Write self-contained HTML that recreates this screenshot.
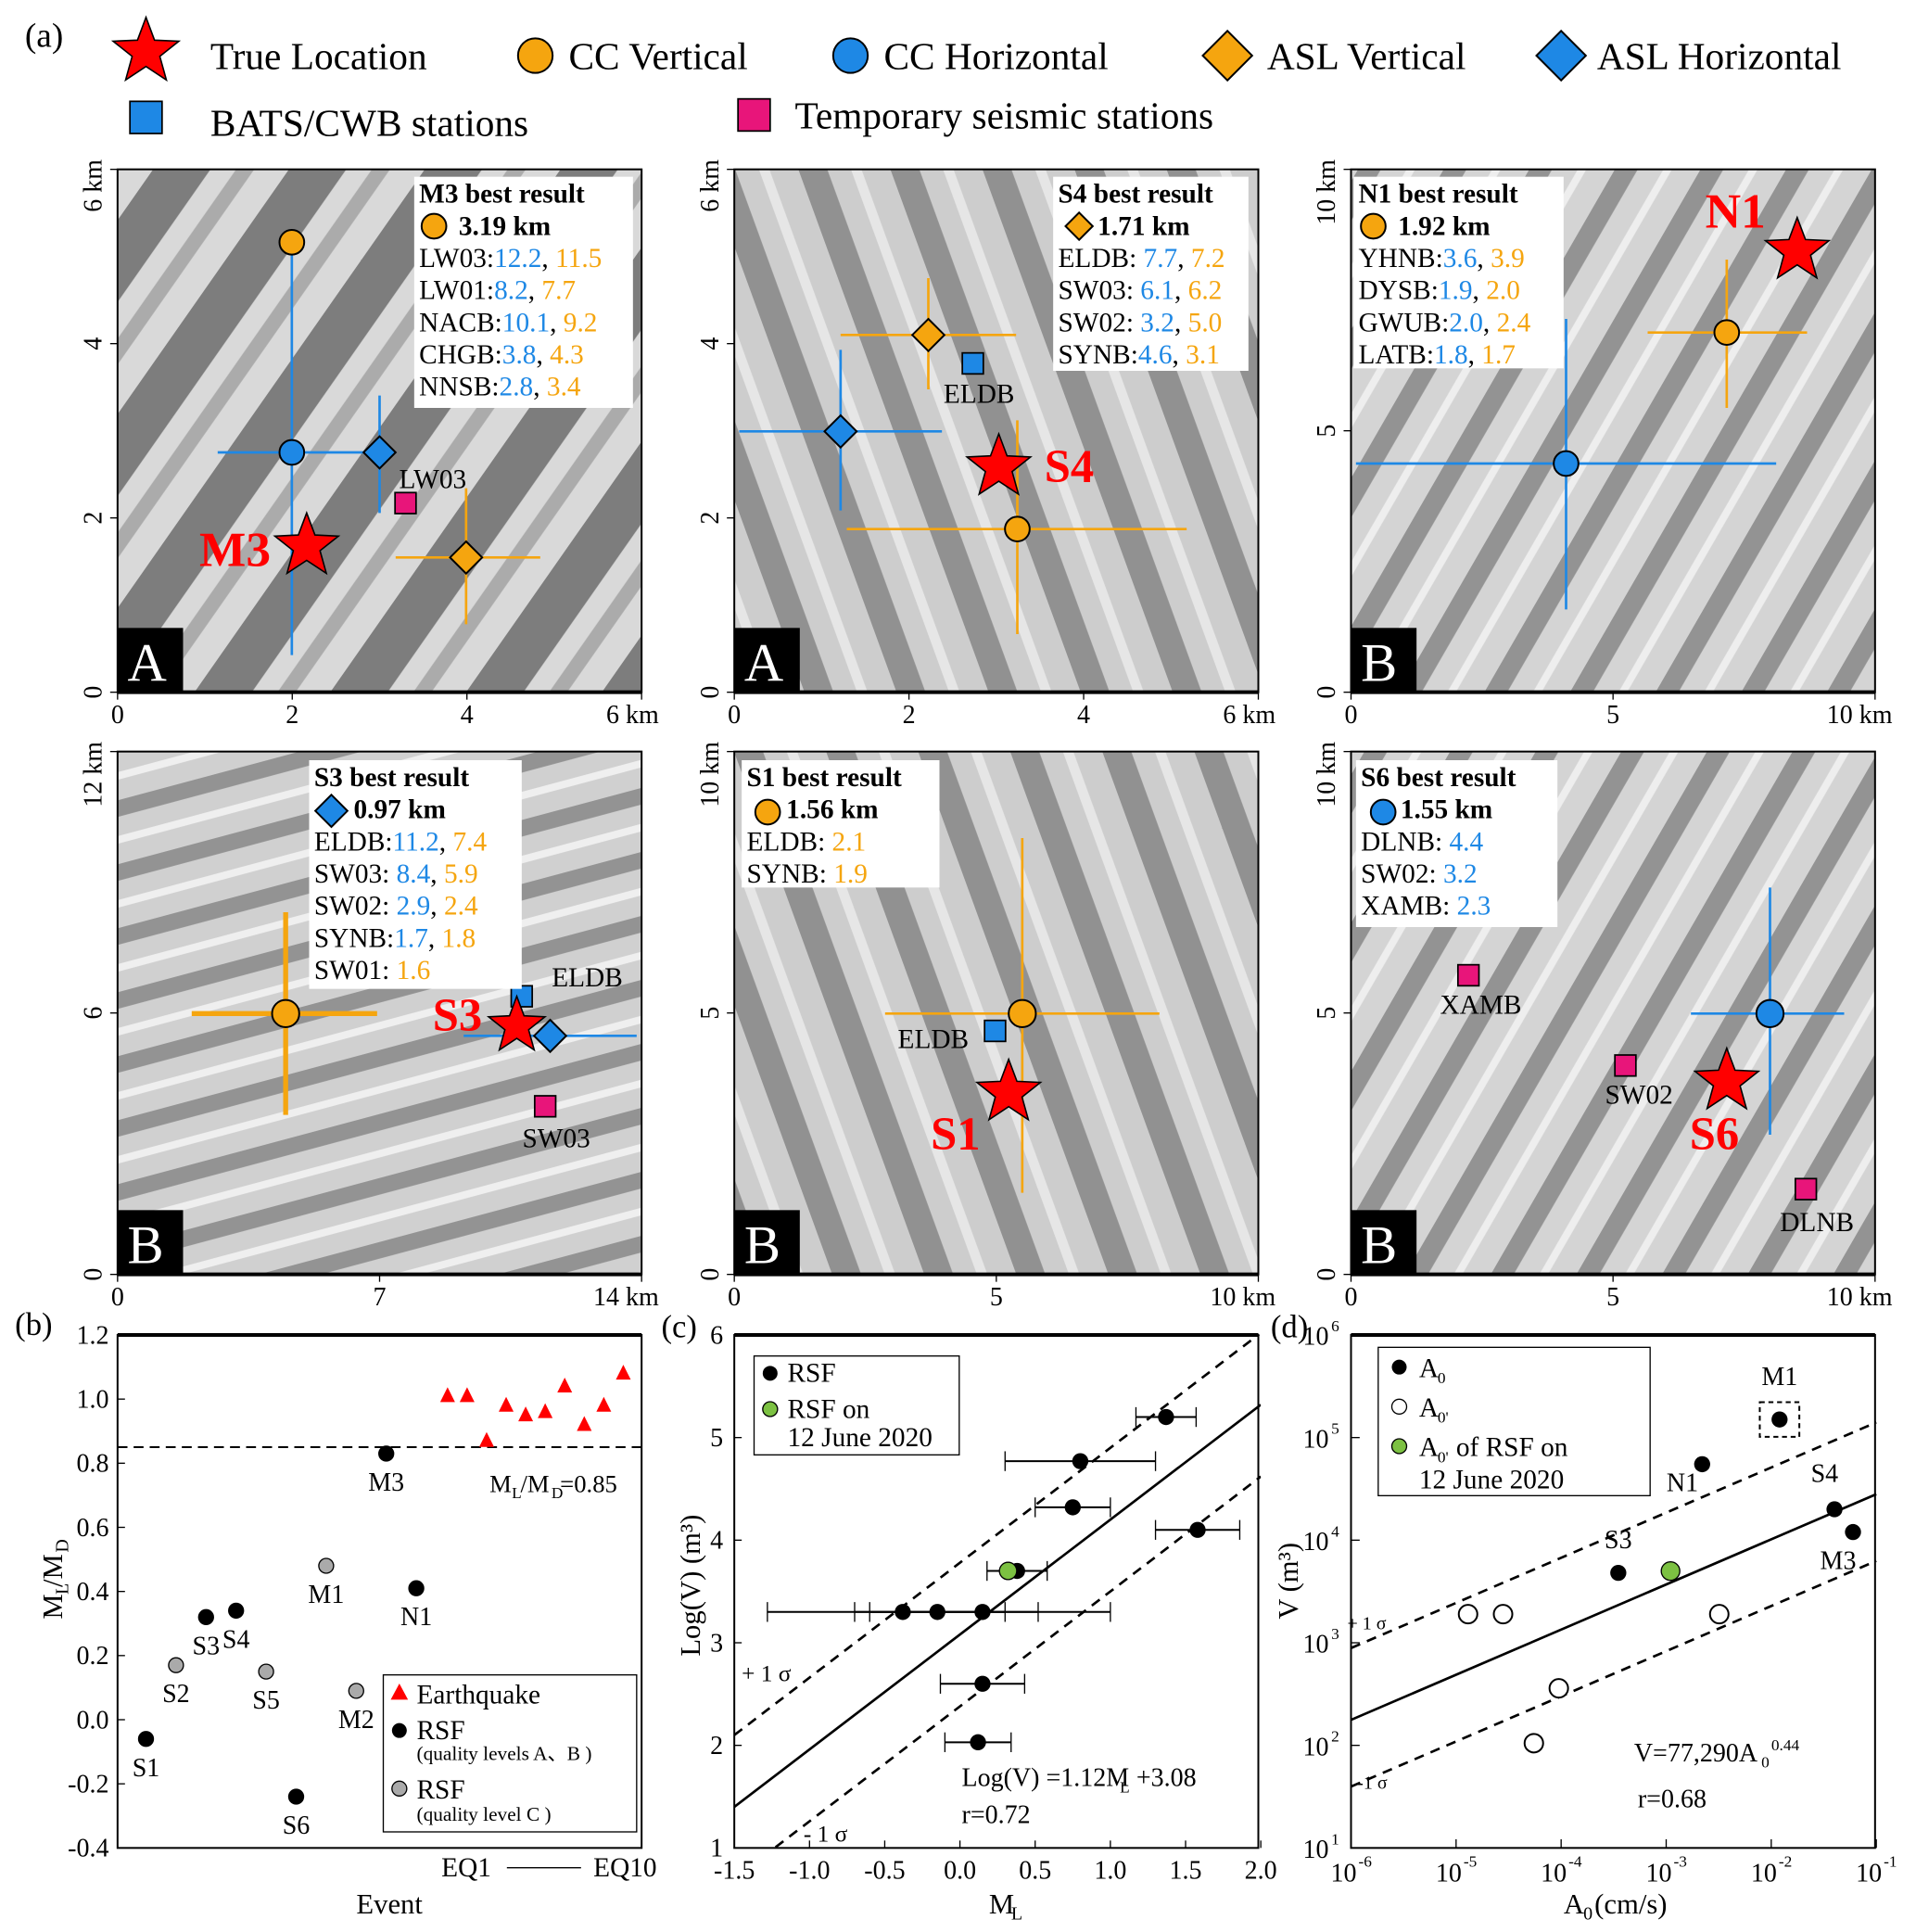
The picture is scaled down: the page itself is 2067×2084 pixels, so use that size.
<!DOCTYPE html>
<html><head><meta charset="utf-8"><style>
html,body{margin:0;padding:0;background:#fff;}
svg{display:block;font-family:"Liberation Serif",serif;}
text{white-space:pre;}
</style></head><body>
<svg id="fig" width="2067" height="2084" viewBox="0 0 1550 1563" xmlns="http://www.w3.org/2000/svg">
<defs>
<pattern id="ter1" patternUnits="userSpaceOnUse" width="90" height="90" patternTransform="rotate(35)">
<rect width="90" height="90" fill="#d9d9d9"/><rect x="0" width="38" height="90" fill="#7d7d7d"/><rect x="55" width="12" height="90" fill="#ababab"/></pattern>
<pattern id="ter2" patternUnits="userSpaceOnUse" width="70" height="70" patternTransform="rotate(-20)">
<rect width="70" height="70" fill="#cdcdcd"/><rect width="22" height="70" fill="#919191"/><rect x="40" width="8" height="70" fill="#e6e6e6"/></pattern>
<pattern id="ter3" patternUnits="userSpaceOnUse" width="60" height="60" patternTransform="rotate(30)">
<rect width="60" height="60" fill="#d4d4d4"/><rect width="16" height="60" fill="#939393"/><rect x="34" width="6" height="60" fill="#eee"/></pattern>
<pattern id="ter4" patternUnits="userSpaceOnUse" width="50" height="50" patternTransform="rotate(75)">
<rect width="50" height="50" fill="#d0d0d0"/><rect width="13" height="50" fill="#939393"/><rect x="28" width="6" height="50" fill="#efefef"/></pattern>
</defs>
<g id="legend-a" font-size="31">
<text x="20" y="38" font-size="28">(a)</text>
</g>
<g id="maps"></g>
<g id="plots"></g>
</svg>
<script>
const NS='http://www.w3.org/2000/svg';
const svg=document.getElementById('fig');
function E(p,tag,a,t){const e=document.createElementNS(NS,tag);for(const k in a)e.setAttribute(k,a[k]);if(t!==undefined)e.textContent=t;p.appendChild(e);return e;}
const OR='#f5a50f',BL='#1e88e5',PK='#e8157a',RD='#f00';
function starPts(cx,cy,R){let r=R*0.42,p=[];for(let i=0;i<10;i++){const a=-Math.PI/2+i*Math.PI/5,rr=i%2?r:R;p.push((cx+rr*Math.cos(a)).toFixed(1)+','+(cy+rr*Math.sin(a)).toFixed(1));}return p.join(' ');}
function star(g,x,y,R){const e=E(g,'polygon',{points:starPts(x,y,R),fill:RD,stroke:'#000','stroke-width':1.2});

}
function circ(g,x,y,c,r){const e=E(g,'circle',{cx:x,cy:y,r:r||10,fill:c,stroke:'#000','stroke-width':1.5});

}
function dia(g,x,y,c,r){r=r||13;const e=E(g,'polygon',{points:`${x},${y-r} ${x+r},${y} ${x},${y+r} ${x-r},${y}`,fill:c,stroke:'#000','stroke-width':1.5});

}
function sq(g,x,y,c,s){s=s||17;const e=E(g,'rect',{x:x-s/2,y:y-s/2,width:s,height:s,fill:c,stroke:'#000','stroke-width':1.3});

}
function cross(g,x,y,h1,h2,v1,v2,c,w){E(g,'line',{x1:h1,y1:y,x2:h2,y2:y,stroke:c,'stroke-width':w||2});E(g,'line',{x1:x,y1:v1,x2:x,y2:v2,stroke:c,'stroke-width':w||2});}

const lg=document.getElementById('legend-a');
star(lg,118,42,28);E(lg,'text',{x:170,y:56},'True Location');
circ(lg,433,45,OR,14);E(lg,'text',{x:460,y:56},'CC Vertical');
circ(lg,688,45,BL,14);E(lg,'text',{x:715,y:56},'CC Horizontal');
dia(lg,993,45,OR,20);E(lg,'text',{x:1025,y:56},'ASL Vertical');
dia(lg,1263,45,BL,20);E(lg,'text',{x:1292,y:56},'ASL Horizontal');
sq(lg,118,95,BL,26);E(lg,'text',{x:170,y:110},'BATS/CWB stations');
sq(lg,610,93,PK,26);E(lg,'text',{x:643,y:104},'Temporary seismic stations');

const maps=document.getElementById('maps');
function mapPanel(name,x0,y0,pat,letter,xt,yt){
 const g=E(maps,'g',{});
 
 
 E(g,'rect',{x:x0,y:y0,width:424,height:423,fill:`url(#${pat})`});
 E(g,'rect',{x:x0,y:y0,width:424,height:423,fill:'none',stroke:'#000','stroke-width':1.5});
 E(g,'line',{x1:x0,y1:y0+423,x2:x0+424,y2:y0+423,stroke:'#000','stroke-width':3});
 E(g,'rect',{x:x0,y:y0+371,width:53,height:52,fill:'#000'});
 E(g,'text',{x:x0+8,y:y0+414,fill:'#fff','font-size':44},letter);
 xt.forEach((t,i)=>{const px=x0+i*424/(xt.length-1);E(g,'line',{x1:px,y1:y0+423,x2:px,y2:y0+429,stroke:'#000'});
  E(g,'text',{x:i==xt.length-1?px+14:px,y:y0+448,'font-size':21,'text-anchor':i==xt.length-1?'end':'middle'},t+(i==xt.length-1?' km':''));});
 yt.forEach((t,i)=>{const py=y0+423-i*423/(yt.length-1);E(g,'line',{x1:x0-6,y1:py,x2:x0,y2:py,stroke:'#000'});
  const last=i==yt.length-1;E(g,'text',{x:0,y:0,'font-size':21,'text-anchor':last?'end':'middle',transform:`translate(${x0-13},${last?py-8:py}) rotate(-90)`},t+(last?' km':''));});
 return g;}
function box(g,x,y,w,h,lines){E(g,'rect',{x,y,width:w,height:h,fill:'#fff'});
 lines.forEach((L,i)=>{const t=E(g,'text',{x:x+4+(i==1?32:0),y:y+21+i*26,'font-size':22});
  L.forEach(s=>{E(t,'tspan',{fill:s[1]||'#000','font-weight':s[2]?'bold':'normal'},s[0]);});});}
function lbl(g,x,y,t,c,fs,anchor){E(g,'text',{x,y,'font-size':fs||22,fill:c||'#000','text-anchor':anchor||'middle','font-weight':c==RD?'bold':'normal'},t);}

let g=mapPanel('map-m3',95,137,'ter1','A',['0','2','4','6'],['0','2','4','6']);
cross(g,236,196,236,236,196,530,BL);cross(g,236,366,176,296,366,366,BL);
cross(g,307,366,307,307,320,415,BL);cross(g,377,451,320,437,395,505,OR);
circ(g,236,196,OR);circ(g,236,366,BL);dia(g,307,366,BL);sq(g,328,407,PK);dia(g,377,451,OR);
star(g,248,442,27);lbl(g,190,458,'M3',RD,40);lbl(g,350,395,'LW03');
box(g,335,143,177,187,[[['M3 best result','#000',1]],[['3.19 km','#000',1]],[['LW03:'],['12.2',BL],[', '],['11.5',OR]],[['LW01:'],['8.2',BL],[', '],['7.7',OR]],[['NACB:'],['10.1',BL],[', '],['9.2',OR]],[['CHGB:'],['3.8',BL],[', '],['4.3',OR]],[['NNSB:'],['2.8',BL],[', '],['3.4',OR]]]);
circ(g,351,183,OR,10);

g=mapPanel('map-s4',594,137,'ter2','A',['0','2','4','6'],['0','2','4','6']);
cross(g,751,271,680,822,225,315,OR);cross(g,680,349,598,762,283,413,BL);cross(g,823,428,685,960,340,513,OR);
dia(g,751,271,OR);sq(g,787,294,BL);lbl(g,792,326,'ELDB');dia(g,680,349,BL);star(g,808,378,27);lbl(g,865,390,'S4',RD,38);circ(g,823,428,OR);
box(g,852,143,158,157,[[['S4 best result','#000',1]],[['1.71 km','#000',1]],[['ELDB: '],['7.7',BL],[', '],['7.2',OR]],[['SW03: '],['6.1',BL],[', '],['6.2',OR]],[['SW02: '],['3.2',BL],[', '],['5.0',OR]],[['SYNB:'],['4.6',BL],[', '],['3.1',OR]]]);
dia(g,873,183,OR,11);

g=mapPanel('map-n1',1093,137,'ter3','B',['0','5','10'],['0','5','10']);
cross(g,1397,269,1333,1462,210,330,OR);cross(g,1267,375,1097,1437,258,493,BL);
star(g,1454,203,27);lbl(g,1404,184,'N1',RD,40);circ(g,1397,269,OR);circ(g,1267,375,BL);
box(g,1095,143,170,155,[[['N1 best result','#000',1]],[['1.92 km','#000',1]],[['YHNB:'],['3.6',BL],[', '],['3.9',OR]],[['DYSB:'],['1.9',BL],[', '],['2.0',OR]],[['GWUB:'],['2.0',BL],[', '],['2.4',OR]],[['LATB:'],['1.8',BL],[', '],['1.7',OR]]]);
circ(g,1111,183,OR,10);

g=mapPanel('map-s3',95,608,'ter4','B',['0','7','14'],['0','6','12']);
cross(g,231,820,155,305,738,902,OR,4);cross(g,445,838,375,515,838,838,BL);
circ(g,231,820,OR,11);sq(g,422,806,BL);lbl(g,475,798,'ELDB');star(g,418,830,24);lbl(g,370,834,'S3',RD,38);dia(g,445,838,BL);sq(g,441,895,PK);lbl(g,450,928,'SW03');
box(g,250,615,172,185,[[['S3 best result','#000',1]],[['0.97 km','#000',1]],[['ELDB:'],['11.2',BL],[', '],['7.4',OR]],[['SW03: '],['8.4',BL],[', '],['5.9',OR]],[['SW02: '],['2.9',BL],[', '],['2.4',OR]],[['SYNB:'],['1.7',BL],[', '],['1.8',OR]],[['SW01: '],['1.6',OR]]]);
dia(g,268,656,BL,13);

g=mapPanel('map-s1',594,608,'ter2','B',['0','5','10'],['0','5','10']);
cross(g,827,820,716,938,678,965,OR);
circ(g,827,820,OR,11);sq(g,805,834,BL);lbl(g,755,848,'ELDB');star(g,816,884,27);lbl(g,773,930,'S1',RD,38);
box(g,600,615,160,103,[[['S1 best result','#000',1]],[['1.56 km','#000',1]],[['ELDB: '],['2.1',OR]],[['SYNB: '],['1.9',OR]]]);
circ(g,621,657,OR,10);

g=mapPanel('map-s6',1093,608,'ter3','B',['0','5','10'],['0','5','10']);
cross(g,1432,820,1368,1492,718,918,BL);
sq(g,1188,789,PK);lbl(g,1198,820,'XAMB');circ(g,1432,820,BL,11);sq(g,1315,862,PK);lbl(g,1326,893,'SW02');
star(g,1397,875,27);lbl(g,1387,930,'S6',RD,38);sq(g,1461,962,PK);lbl(g,1470,996,'DLNB');
box(g,1097,615,163,135,[[['S6 best result','#000',1]],[['1.55 km','#000',1]],[['DLNB: '],['4.4',BL]],[['SW02: '],['3.2',BL]],[['XAMB: '],['2.3',BL]]]);
circ(g,1119,657,BL,10);

// ---------- (b) ----------
const bEvents=['S1','S2','S3','S4','S5','S6','M1','M2','M3','N1'];
const bRatio=[-0.06,0.17,0.32,0.34,0.15,-0.24,0.48,0.09,0.83,0.41];
const bQualityC=[false,true,false,false,true,false,true,true,false,false];
const bQuakes=[1.01,1.01,0.87,0.98,0.95,0.96,1.04,0.92,0.98,1.08];
const bYTicks=[-0.4,-0.2,0,0.2,0.4,0.6,0.8,1.0,1.2];
// ---------- (c) ----------
const cML=[1.37,0.8,0.75,1.58,0.38,-0.38,-0.15,0.15,0.15,0.12];
const cLogV=[5.2,4.77,4.32,4.1,3.7,3.3,3.3,3.3,2.6,2.03];
const cErr=[0.2,0.5,0.25,0.28,0.2,0.9,0.45,0.85,0.28,0.22];
const cGreenML=[0.32], cGreenLogV=[3.7];
const cXTicks=[-1.5,-1.0,-0.5,0,0.5,1.0,1.5,2.0];
const cYTicks=[1,2,3,4,5,6];
// ---------- (d) ----------
const dA0=[0.012,0.0022,0.04,0.06,0.00035];
const dV=[150000,55000,20000,12000,4800];
const dLabels=['M1','N1','S4','M3','S3'];
const dA0p=[1.3e-5,2.8e-5,3.2e-3,9.5e-5,5.5e-5];
const dVp=[1900,1900,1900,360,105];
const dGreenA=[1.1e-3], dGreenV=[5000];
const dXExp=[-6,-5,-4,-3,-2,-1];
const dYExp=[1,2,3,4,5,6];

const P=document.getElementById('plots');
function frame(x0,name){const f=E(P,'g',{});
 E(f,'rect',{x:x0,y:1080,width:424,height:415,fill:'none',stroke:'#000','stroke-width':1.5});E(f,'line',{x1:x0,y1:1080,x2:x0+424,y2:1080,stroke:'#000','stroke-width':3});return f;}
const fb=frame(95,'plot-b');
const byS=v=>1495-(v+0.4)/1.6*415, bxR=i=>118+i*24.3, bxQ=i=>362+i*15.8;
E(fb,'text',{x:12,y:1080,'font-size':26},'(b)');
bYTicks.forEach(v=>{E(fb,'line',{x1:95,y1:byS(v),x2:101,y2:byS(v),stroke:'#000'});E(fb,'text',{x:88,y:byS(v)+7,'font-size':21,'text-anchor':'end'},v.toFixed(1));});
E(fb,'line',{x1:95,y1:byS(0.85),x2:519,y2:byS(0.85),stroke:'#000','stroke-width':1.5,'stroke-dasharray':'8,5'});
bRatio.forEach((v,i)=>{const c=E(fb,'circle',{cx:bxR(i),cy:byS(v),r:6,fill:bQualityC[i]?'#aaa':'#000',stroke:'#000'});
 
 
 E(fb,'text',{x:bxR(i),y:byS(v)+30,'font-size':21,'text-anchor':'middle'},bEvents[i]);});
bQuakes.forEach((v,i)=>{const x=bxQ(i),y=byS(v);const t=E(fb,'polygon',{points:`${x},${y-7} ${x+6},${y+5} ${x-6},${y+5}`,fill:RD});
 
 });
E(fb,'text',{x:396,y:1207,'font-size':20},'M');E(fb,'text',{x:414,y:1212,'font-size':13},'L');E(fb,'text',{x:421,y:1207,'font-size':20},'/M');E(fb,'text',{x:446,y:1212,'font-size':13},'D');E(fb,'text',{x:453,y:1207,'font-size':20},'=0.85');
E(fb,'text',{x:0,y:0,'font-size':23,transform:'translate(50,1310) rotate(-90)'},'M');E(fb,'text',{x:0,y:0,'font-size':15,transform:'translate(55,1290) rotate(-90)'},'L');
E(fb,'text',{x:0,y:0,'font-size':23,transform:'translate(50,1284) rotate(-90)'},'/M');E(fb,'text',{x:0,y:0,'font-size':15,transform:'translate(55,1256) rotate(-90)'},'D');
E(fb,'text',{x:357,y:1518,'font-size':22},'EQ1');E(fb,'line',{x1:410,y1:1511,x2:470,y2:1511,stroke:'#000'});E(fb,'text',{x:480,y:1518,'font-size':22},'EQ10');
E(fb,'text',{x:315,y:1548,'font-size':23,'text-anchor':'middle'},'Event');
E(fb,'rect',{x:310,y:1355,width:205,height:127,fill:'#fff',stroke:'#000'});
E(fb,'polygon',{points:'323,1362 330,1375 316,1375',fill:RD});E(fb,'text',{x:337,y:1378,'font-size':22},'Earthquake');
E(fb,'circle',{cx:323,cy:1400,r:6,fill:'#000'});E(fb,'text',{x:337,y:1407,'font-size':22},'RSF');E(fb,'text',{x:337,y:1424,'font-size':16},'(quality levels A、B )');
E(fb,'circle',{cx:323,cy:1447,r:6,fill:'#aaa',stroke:'#000'});E(fb,'text',{x:337,y:1455,'font-size':22},'RSF');E(fb,'text',{x:337,y:1473,'font-size':16},'(quality level C )');

const fc=frame(594,'plot-c');
const cx=v=>594+(v+1.5)/3.5*426, cy=v=>1495-(v-1)*83;
E(fc,'text',{x:535,y:1082,'font-size':26},'(c)');
cXTicks.forEach(v=>{E(fc,'line',{x1:cx(v),y1:1495,x2:cx(v),y2:1489,stroke:'#000'});E(fc,'text',{x:cx(v),y:1520,'font-size':21,'text-anchor':'middle'},v.toFixed(1));});
cYTicks.forEach(v=>{E(fc,'line',{x1:594,y1:cy(v),x2:600,y2:cy(v),stroke:'#000'});E(fc,'text',{x:585,y:cy(v)+7,'font-size':21,'text-anchor':'end'},v);});
E(fc,'clipPath',{id:'cclip'});E(document.getElementById('cclip'),'rect',{x:594,y:1080,width:426,height:415});
const cl=E(fc,'g',{'clip-path':'url(#cclip)'});
[[0,''],[0.7,'8,6'],[-0.7,'8,6']].forEach(([o,d])=>{const ln=E(cl,'line',{x1:cx(-1.5),y1:cy(1.12*-1.5+3.08+o),x2:cx(2),y2:cy(1.12*2+3.08+o),stroke:'#000','stroke-width':2,'stroke-dasharray':d});
 
 });
cML.forEach((m,i)=>{const y=cy(cLogV[i]);E(fc,'line',{x1:cx(m-cErr[i]),y1:y,x2:cx(m+cErr[i]),y2:y,stroke:'#000','stroke-width':1.5});
 [m-cErr[i],m+cErr[i]].forEach(e=>E(fc,'line',{x1:cx(e),y1:y-8,x2:cx(e),y2:y+8,stroke:'#000'}));
 const p=E(fc,'circle',{cx:cx(m),cy:y,r:6.5,fill:'#000'});
 
 });
cGreenML.forEach((m,i)=>{const p=E(fc,'circle',{cx:cx(m),cy:cy(cGreenLogV[i]),r:7,fill:'#7cc142',stroke:'#000'});
 
 });
E(fc,'rect',{x:610,y:1097,width:166,height:80,fill:'#fff',stroke:'#000'});
E(fc,'circle',{cx:623,cy:1111,r:6,fill:'#000'});E(fc,'text',{x:637,y:1118,'font-size':22},'RSF');
E(fc,'circle',{cx:623,cy:1140,r:6,fill:'#7cc142',stroke:'#000'});E(fc,'text',{x:637,y:1147,'font-size':22},'RSF on');E(fc,'text',{x:637,y:1170,'font-size':22},'12 June 2020');
E(fc,'text',{x:600,y:1360,'font-size':19},'+ 1 σ');E(fc,'text',{x:650,y:1490,'font-size':19},'- 1 σ');
E(fc,'text',{x:778,y:1445,'font-size':21},'Log(V) =1.12M');E(fc,'text',{x:906,y:1450,'font-size':13},'L');E(fc,'text',{x:914,y:1445,'font-size':21},' +3.08');
E(fc,'text',{x:778,y:1475,'font-size':21},'r=0.72');
E(fc,'text',{x:800,y:1548,'font-size':23},'M');E(fc,'text',{x:818,y:1553,'font-size':15},'L');
E(fc,'text',{x:0,y:0,'font-size':23,transform:'translate(566,1340) rotate(-90)'},'Log(V) (m³)');

const fd=frame(1093,'plot-d');
const dx=a=>1093+(Math.log10(a)+6)*85, dy=v=>1495-(Math.log10(v)-1)*83;
E(fd,'text',{x:1028,y:1082,'font-size':26},'(d)');
dXExp.forEach(e=>{E(fd,'line',{x1:dx(10**e),y1:1495,x2:dx(10**e),y2:1488,stroke:'#000'});E(fd,'text',{x:dx(10**e)-6,y:1522,'font-size':21,'text-anchor':'middle'},'10');E(fd,'text',{x:dx(10**e)+6,y:1510,'font-size':13},String(e));});
dYExp.forEach(e=>{E(fd,'line',{x1:1093,y1:dy(10**e),x2:1100,y2:dy(10**e),stroke:'#000'});E(fd,'text',{x:1075,y:dy(10**e)+8,'font-size':21,'text-anchor':'end'},'10');E(fd,'text',{x:1077,y:dy(10**e)-3,'font-size':13},String(e));});
[[0,''],[0.7,'8,6'],[-0.65,'8,6']].forEach(([o,d])=>{const f=a=>77290*a**0.44*10**o;const ln=E(fd,'line',{x1:dx(1e-6),y1:dy(f(1e-6)),x2:dx(0.1),y2:dy(f(0.1)),stroke:'#000','stroke-width':2,'stroke-dasharray':d});
 
 });
dA0.forEach((a,i)=>{const p=E(fd,'circle',{cx:dx(a),cy:dy(dV[i]),r:6.5,fill:'#000'});
 
 
 const off={M1:[0,-28],N1:[-16,22],S4:[-8,-22],M3:[-12,30],S3:[0,-20]}[dLabels[i]];
 E(fd,'text',{x:dx(a)+off[0],y:dy(dV[i])+off[1],'font-size':21,'text-anchor':'middle'},dLabels[i]);});
E(fd,'rect',{x:dx(dA0[0])-16,y:dy(dV[0])-14,width:32,height:28,fill:'none',stroke:'#000','stroke-dasharray':'4,3','stroke-width':1.5});
dA0p.forEach((a,i)=>{const p=E(fd,'circle',{cx:dx(a),cy:dy(dVp[i]),r:7.5,fill:'#fff',stroke:'#000','stroke-width':1.5});
 
 });
dGreenA.forEach((a,i)=>{const p=E(fd,'circle',{cx:dx(a),cy:dy(dGreenV[i]),r:7.5,fill:'#7cc142',stroke:'#000'});
 
 });
E(fd,'rect',{x:1115,y:1090,width:220,height:120,fill:'#fff',stroke:'#000'});
E(fd,'circle',{cx:1132,cy:1106,r:6,fill:'#000'});E(fd,'text',{x:1148,y:1114,'font-size':22},'A');E(fd,'text',{x:1163,y:1119,'font-size':13},'0');
E(fd,'circle',{cx:1132,cy:1138,r:6,fill:'#fff',stroke:'#000'});E(fd,'text',{x:1148,y:1146,'font-size':22},'A');E(fd,'text',{x:1163,y:1151,'font-size':13},"0'");
E(fd,'circle',{cx:1132,cy:1170,r:6,fill:'#7cc142',stroke:'#000'});E(fd,'text',{x:1148,y:1178,'font-size':22},'A');E(fd,'text',{x:1163,y:1183,'font-size':13},"0'");E(fd,'text',{x:1178,y:1178,'font-size':22},'of RSF on');E(fd,'text',{x:1148,y:1204,'font-size':22},'12 June 2020');
E(fd,'text',{x:1090,y:1318,'font-size':15},'+ 1 σ');E(fd,'text',{x:1098,y:1447,'font-size':15},'-1 σ');
E(fd,'text',{x:1322,y:1425,'font-size':21},'V=77,290A');E(fd,'text',{x:1425,y:1430,'font-size':13},'0');E(fd,'text',{x:1433,y:1416,'font-size':13},'0.44');
E(fd,'text',{x:1325,y:1462,'font-size':21},'r=0.68');
E(fd,'text',{x:1265,y:1548,'font-size':23},'A');E(fd,'text',{x:1281,y:1553,'font-size':15},'0');E(fd,'text',{x:1290,y:1548,'font-size':23},'(cm/s)');
E(fd,'text',{x:0,y:0,'font-size':23,transform:'translate(1050,1310) rotate(-90)'},'V (m³)');
</script>
</body></html>
